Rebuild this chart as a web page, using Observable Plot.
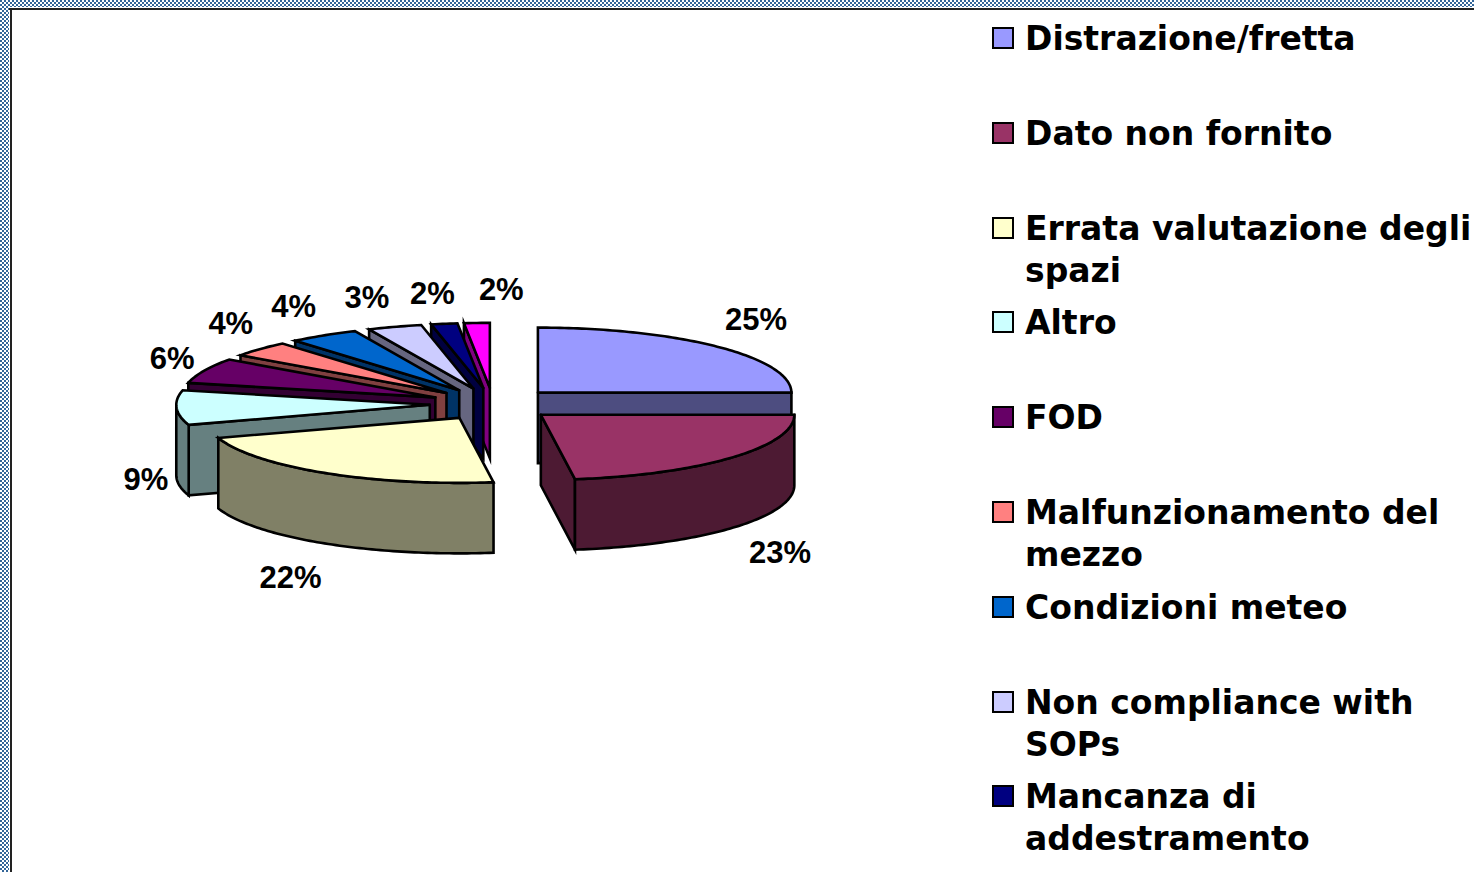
<!DOCTYPE html>
<html lang="it">
<head>
<meta charset="utf-8">
<script src="https://cdn.jsdelivr.net/npm/d3@7"></script>
<script src="https://cdn.jsdelivr.net/npm/@observablehq/plot@0.6"></script>
<style>
  html, body { margin: 0; padding: 0; background: #fff; overflow: hidden; }
  #page { position: relative; width: 1474px; height: 872px; overflow: hidden; background: #fff; }
  .hatch { position: absolute; background: repeating-conic-gradient(#336699 0 25%, #fff 0 50%) 2px 0 / 4px 4px; }
  #hatch-top { left: 0; top: 0; width: 1474px; height: 7px; }
  #hatch-left { left: 0; top: 0; width: 9px; height: 872px; }
  #rule-top { position: absolute; left: 9px; top: 8px; width: 1465px; height: 2px; background: #222; }
  #rule-left { position: absolute; left: 10px; top: 8px; width: 2px; height: 864px; background: #222; }
  #chart { position: absolute; left: 0; top: 0; }
  #legend { position: absolute; left: 992px; top: 0; width: 482px; height: 872px; overflow: hidden;
            font: bold 33px/42px "DejaVu Sans", sans-serif; color: #000; }
  .item { position: absolute; left: 0; width: 482px; padding-left: 33px; box-sizing: border-box; white-space: pre-line; }
  .swatch { position: absolute; left: 0; top: 9px; width: 22px; height: 22px; box-sizing: border-box; border: 2px solid #000; }
</style>
</head>
<body>
<div id="page">
  <div class="hatch" id="hatch-top"></div>
  <div class="hatch" id="hatch-left"></div>
  <div id="rule-top"></div>
  <div id="rule-left"></div>
  <div id="chart"></div>
  <div id="legend"></div>
</div>
<script>
// Legend entries visible in the picture (the tenth one falls below the frame)
const categories = ["Distrazione/fretta", "Dato non fornito", "Errata valutazione degli\nspazi", "Altro", "FOD",
  "Malfunzionamento del\nmezzo", "Condizioni meteo", "Non compliance with\nSOPs", "Mancanza di\naddestramento"];
// Slice shares
const shares = [25, 22.85, 22.15, 8.6, 6.3, 3.9, 4.45, 3.45, 1.67, 1.63];
const sliceColors = ["#9999FF", "#993366", "#FFFFCC", "#CCFFFF", "#660066", "#FF8080", "#0066CC", "#CCCCFF", "#000080", "#FF00FF"];
// Hand-placed adjustment of each percentage label, in pixels
const labelShiftX = [3, 10, -7, 20, 14, 8, -3, -12, -4, 27];
const labelShiftY = [-1, 2, 4, 0, 3, -1, 2, 5, 6, 3];

// Pie geometry in units of the pie radius; the x and y scales turn it into an ellipse
const W = 985, H = 872;
const centerX = 492.6, centerY = 403.6, radiusX = 253.5, radiusY = 65;
const depth = 70.5 / radiusY, explode = 0.25;
const total = d3.sum(shares);

const half = c => { const r = d3.rgb(c); return d3.rgb(r.r / 2, r.g / 2, r.b / 2).formatHex(); };
const sin = Math.sin, cos = Math.cos, TAU = 2 * Math.PI;

let acc = 0;
const slices = shares.map((v, i) => {
  const a0 = acc / total * TAU; acc += v;
  const a1 = acc / total * TAU, mid = (a0 + a1) / 2;
  return { i, v, a0, a1, mid, cx: explode * sin(mid), cy: -explode * cos(mid), color: sliceColors[i] };
});

const rim = (s, a, drop = 0) => ({ x: s.cx + sin(a), y: s.cy - cos(a) + drop });
const arc = (s, a0, a1, drop = 0) => {
  const n = Math.max(2, Math.ceil((a1 - a0) / (TAU / 360)));
  return d3.range(n + 1).map(k => rim(s, a0 + (a1 - a0) * k / n, drop));
};

// Painter's order: back slice first, then around the left side, front slice last
const order = [0, 9, 8, 7, 6, 5, 4, 3, 2, 1];
const faces = [];
const addFace = (pts, color, id) => {
  const closed = [...pts, pts[0]];
  closed.forEach(p => faces.push({ ...p, color, id }));
};
order.forEach(i => {
  const s = slices[i], side = half(s.color);
  const apex = { x: s.cx, y: s.cy }, apexLow = { x: s.cx, y: s.cy + depth };
  if (sin(s.a0) < 0) addFace([apex, rim(s, s.a0), rim(s, s.a0, depth), apexLow], side, `${i}-start`);
  if (sin(s.a1) > 0) addFace([apex, rim(s, s.a1), rim(s, s.a1, depth), apexLow], side, `${i}-end`);
  const w0 = Math.max(s.a0, Math.PI / 2), w1 = Math.min(s.a1, 1.5 * Math.PI);
  if (w1 > w0) addFace([...arc(s, w0, w1), ...arc(s, w0, w1, depth).reverse()], side, `${i}-wall`);
  addFace([apex, ...arc(s, s.a0, s.a1)], s.color, `${i}-top`);
});

const labels = slices.map(s => ({
  x: 1.45 * sin(s.mid) + labelShiftX[s.i] / radiusX,
  y: -1.8 * cos(s.mid) + (cos(s.mid) < 0 ? depth : 0) + labelShiftY[s.i] / radiusY,
  text: Math.round(s.v) + "%"
}));

const chart = Plot.plot({
  width: W, height: H, margin: 0,
  style: { background: "transparent", overflow: "visible" },
  x: { domain: [-1, 1], range: [centerX - radiusX, centerX + radiusX], axis: null },
  y: { domain: [-1, 1], range: [centerY - radiusY, centerY + radiusY], axis: null },
  marks: [
    Plot.line(faces, {
      x: "x", y: "y", z: "id", fill: "color", stroke: "#000", strokeWidth: 2.6,
      strokeLinejoin: "miter", strokeMiterlimit: 6, curve: "linear"
    }),
    Plot.text(labels, {
      x: "x", y: "y", text: "text", fill: "#000",
      fontFamily: "'Liberation Sans', Arial, sans-serif", fontSize: 31, fontWeight: "bold"
    })
  ]
});
document.getElementById("chart").append(chart);

const legend = d3.select("#legend");
categories.forEach((name, i) => {
  const item = legend.append("div").attr("class", "item").style("top", (18 + i * 94.8) + "px");
  item.append("div").attr("class", "swatch").style("background", sliceColors[i]);
  item.append("span").text(name);
});
</script>
</body>
</html>
